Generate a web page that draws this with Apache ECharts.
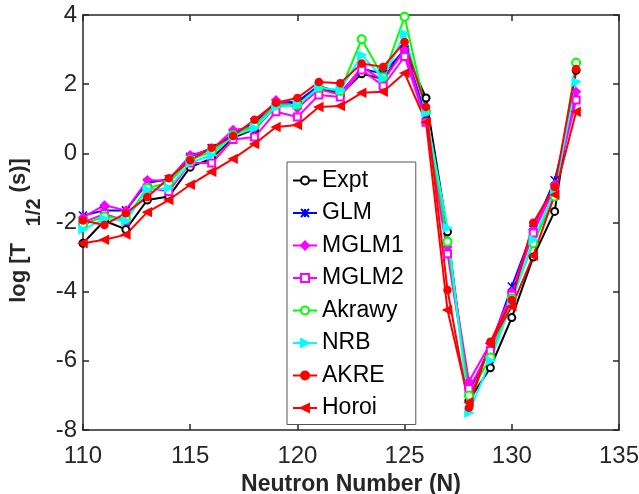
<!DOCTYPE html>
<html>
<head>
<meta charset="utf-8">
<script src="https://cdn.jsdelivr.net/npm/echarts@6/dist/echarts.min.js"></script>
<style>
html,body{margin:0;padding:0;background:#fff;}
#c{width:639px;height:494px;}
</style>
</head>
<body>
<div id="c"></div>
<script>
const neutrons = [110,111,112,113,114,115,116,117,118,119,120,121,122,123,124,125,126,127,128,129,130,131,132,133];
const xTicks = [110,115,120,125,130,135];
const yTicks = [-8,-6,-4,-2,0,2,4];

const expt   = [-2.6,-1.95,-2.2,-1.35,-1.25,-0.4,-0.15,0.45,0.7,1.35,1.45,1.9,1.7,2.3,2.15,3.0,1.6,-2.27,-7.15,-6.2,-4.75,-3.0,-1.68,2.4];
const glm    = [-1.8,-1.65,-1.65,-0.85,-0.75,-0.1,0.15,0.55,0.9,1.45,1.5,1.95,1.75,2.45,2.3,3.0,1.1,-2.6,-6.9,-5.6,-3.85,-2.2,-0.78,1.7];
const mglm1  = [-1.85,-1.5,-1.65,-0.77,-0.8,-0.05,0.1,0.68,0.75,1.54,1.3,1.85,1.7,2.5,2.1,3.0,0.9,-2.7,-6.6,-5.5,-4.0,-2.2,-0.9,1.78];
const mglm2  = [-2.0,-1.75,-1.95,-1.0,-1.1,-0.28,-0.28,0.4,0.47,1.2,1.05,1.69,1.63,2.41,1.95,2.8,0.9,-2.9,-6.8,-5.7,-4.1,-2.3,-1.0,1.54];
const akrawy = [-2.05,-1.83,-1.9,-1.0,-0.85,-0.19,0.05,0.53,0.8,1.4,1.4,1.9,1.8,3.3,2.2,3.95,1.2,-2.56,-7.0,-5.9,-4.2,-2.6,-1.25,2.62];
const nrb    = [-2.2,-1.9,-1.95,-1.05,-1.0,-0.28,-0.05,0.5,0.73,1.34,1.4,1.9,1.83,2.84,2.17,3.46,1.17,-2.16,-7.5,-6.0,-4.3,-2.5,-1.1,2.07];
const akre   = [-1.94,-2.07,-1.73,-1.26,-0.72,-0.2,0.16,0.5,0.97,1.46,1.6,2.06,2.03,2.6,2.5,3.22,1.34,-3.95,-7.36,-5.45,-4.24,-2.01,-0.97,2.44];
const horoi  = [-2.6,-2.5,-2.35,-1.7,-1.35,-0.91,-0.53,-0.16,0.27,0.76,0.82,1.34,1.37,1.75,1.78,2.32,0.9,-4.53,-7.2,-5.5,-4.43,-2.96,-1.2,1.2];

const seriesNames = ['Expt','GLM','MGLM1','MGLM2','Akrawy','NRB','AKRE','Horoi'];
const seriesValues = [expt,glm,mglm1,mglm2,akrawy,nrb,akre,horoi];
const seriesColors = ['#000000','#0000ff','#ff00ff','#ff00ff','#00ff00','#00ffff','#ff0000','#ff0000'];
const seriesSymbols = ['emptyCircle','path://M0,0L10,10M10,0L0,10M5,0L5,10','diamond','emptyRect','emptyCircle','triangle','circle','triangle'];
const seriesSymbolSize = [7,8,8,7,8,8,7,8];
const seriesSymbolRotate = [0,0,0,0,0,-90,0,90];

const FONT = '"Liberation Sans", Arial, Helvetica, sans-serif';
const AX = '#262626';

const chart = echarts.init(document.getElementById('c'), null, {renderer:'canvas'});

const series = seriesNames.map((name, k) => ({
  name: name,
  type: 'line',
  xAxisIndex: 0,
  yAxisIndex: 0,
  data: neutrons.map((n, i) => [n, seriesValues[k][i]]),
  symbol: seriesSymbols[k],
  symbolSize: seriesSymbolSize[k],
  symbolRotate: seriesSymbolRotate[k],
  showAllSymbol: true,
  animation: false,
  lineStyle: {color: seriesColors[k], width: 2},
  itemStyle: {color: seriesColors[k], borderColor: seriesColors[k], borderWidth: 1.5},
  emphasis: {disabled: true}
}));

const option = {
  backgroundColor: '#ffffff',
  animation: false,
  grid: {left: 83, right: 20, top: 15, bottom: 64, containLabel: false, outerBoundsMode: 'none'},
  legend: {
    orient: 'vertical',
    left: 287,
    top: 162,
    data: seriesNames,
    backgroundColor: '#ffffff',
    borderColor: '#555555',
    borderWidth: 1,
    padding: [7, 12, 5, 5],
    itemWidth: 24,
    itemHeight: 10,
    itemGap: 9.5,
    textStyle: {fontFamily: FONT, fontSize: 23, color: '#000', lineHeight: 23},
    selectedMode: false
  },
  xAxis: [{
    type: 'value', min: 110, max: 135, interval: 5, position: 'bottom',
    axisLine: {show: true, onZero: false, lineStyle: {color: AX, width: 1.5}},
    axisTick: {show: true, inside: true, length: 6, lineStyle: {color: AX, width: 1.5}},
    axisLabel: {show: true, margin: 14, color: AX, fontFamily: FONT, fontSize: 24,
      formatter: v => xTicks.includes(v) ? String(v) : ''},
    splitLine: {show: false},
    name: 'Neutron Number (N)', nameLocation: 'middle', nameGap: 34,
    nameTextStyle: {fontFamily: FONT, fontSize: 23, fontWeight: 'bold', color: AX}
  }, {
    type: 'value', min: 110, max: 135, interval: 5, position: 'top',
    axisLine: {show: true, onZero: false, lineStyle: {color: AX, width: 1.5}},
    axisTick: {show: true, inside: true, length: 6, lineStyle: {color: AX, width: 1.5}},
    axisLabel: {show: false}, splitLine: {show: false}
  }],
  yAxis: [{
    type: 'value', min: -8, max: 4, interval: 2, position: 'left',
    axisLine: {show: true, onZero: false, lineStyle: {color: AX, width: 1.5}},
    axisTick: {show: true, inside: true, length: 6, lineStyle: {color: AX, width: 1.5}},
    axisLabel: {show: true, margin: 6, color: AX, fontFamily: FONT, fontSize: 24,
      formatter: v => yTicks.includes(v) ? String(v) : ''},
    splitLine: {show: false},
    name: '{a|log [T}{s|   1/2}{b| (s)]}', nameLocation: 'middle', nameGap: 36, nameRotate: 90,
    nameTextStyle: {
      color: AX,
      rich: {
        a: {fontFamily: FONT, fontSize: 22, fontWeight: 'bold', color: AX},
        s: {fontFamily: FONT, fontSize: 20, fontWeight: 'bold', color: AX, padding: [32, 0, 0, 0]},
        b: {fontFamily: FONT, fontSize: 22, fontWeight: 'bold', color: AX, padding: [0, 16, 0, 0]}
      }
    }
  }, {
    type: 'value', min: -8, max: 4, interval: 2, position: 'right',
    axisLine: {show: true, onZero: false, lineStyle: {color: AX, width: 1.5}},
    axisTick: {show: true, inside: true, length: 6, lineStyle: {color: AX, width: 1.5}},
    axisLabel: {show: false}, splitLine: {show: false}
  }],
  series: series
};
chart.setOption(option);
</script>
</body>
</html>
